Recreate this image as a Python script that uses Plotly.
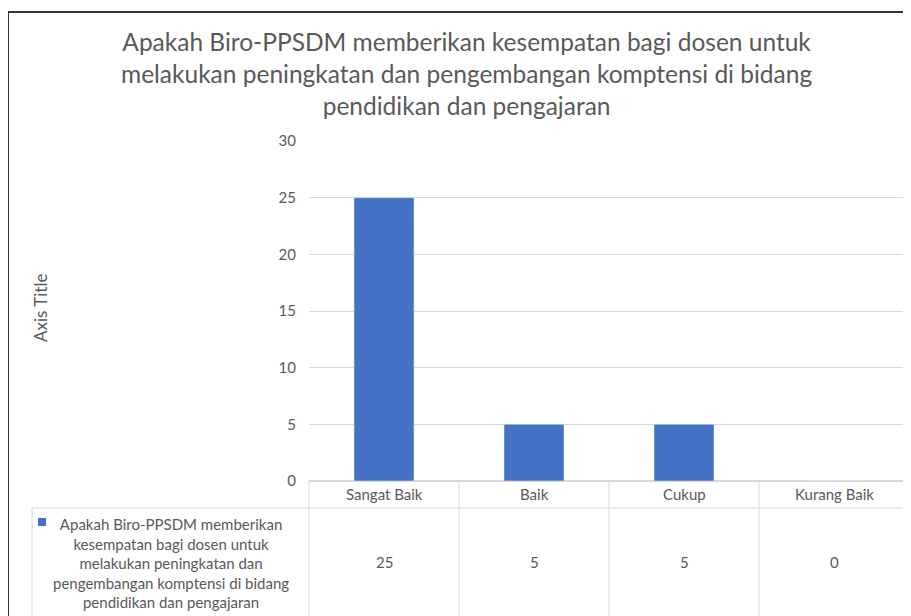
import plotly.graph_objects as go

# data
categories = ["Sangat Baik", "Baik", "Cukup", "Kurang Baik"]
values = [25, 5, 5, 0]
series_name = ("Apakah Biro-PPSDM memberikan<br>kesempatan bagi dosen untuk<br>"
               "melakukan peningkatan dan<br>pengembangan komptensi di bidang<br>"
               "pendidikan dan pengajaran")
title_text = ("Apakah Biro-PPSDM memberikan kesempatan bagi dosen untuk<br>"
              "melakukan peningkatan dan pengembangan komptensi di bidang<br>"
              "pendidikan dan pengajaran")

W, H = 911, 616
OFF = 8  # page body margin
# plot area in screen pixels
X0, X1, Y0, Y1 = 309, 909, 141, 481
L, R = X0 - OFF, W - (X1 - OFF)
T, B = Y0 - OFF, H - (Y1 - OFF)
FONT = "Lato"
GREY = "#595959"
LINE = "#d9d9d9"
BLUE = "#4472C4"


# screen pixel -> paper helpers (for table lines, frame, text placement)
def px(x):
    return (x - X0) / (X1 - X0)


def py(y):
    return (Y1 - y) / (Y1 - Y0)


fig = go.Figure(go.Bar(x=categories, y=values, marker_color=BLUE, width=0.4,
                       showlegend=False, hoverinfo="x+y"))

shapes = []
# table grid
gl = dict(type="line", xref="paper", yref="paper", line=dict(color=LINE, width=1), layer="above")
shapes.append(dict(gl, x0=px(32), x1=px(909), y0=py(508), y1=py(508)))
for xv in [309, 459, 609, 759, 909]:
    shapes.append(dict(gl, x0=px(xv), x1=px(xv), y0=py(481), y1=py(630)))
shapes.append(dict(gl, x0=px(32), x1=px(32), y0=py(508), y1=py(630)))
# legend key
shapes.append(dict(type="rect", xref="paper", yref="paper", x0=px(38), x1=px(46),
                   y0=py(526), y1=py(518), fillcolor=BLUE, line=dict(width=0)))
# outer frame
shapes.append(dict(type="path", xref="paper", yref="paper",
                   path=f"M {px(8)},{py(630)} L {px(8)},{py(12)} L {px(925)},{py(12)}",
                   line=dict(color="#333333", width=2)))

cell = dict(showarrow=False, xanchor="center", yanchor="middle",
            font=dict(family=FONT, size=15, color=GREY))
annotations = []
for c, v in zip(categories, values):
    annotations.append(dict(cell, x=c, xref="x", y=py(494), yref="paper", text=c))
    annotations.append(dict(cell, x=c, xref="x", y=py(562), yref="paper", text=str(v)))
annotations.append(dict(cell, x=px(171), xref="paper", y=py(563), yref="paper",
                        text=series_name, align="center"))
annotations.append(dict(cell, x=px(40), xref="paper", y=py(308), yref="paper",
                        text="Axis Title", textangle=-90,
                        font=dict(family=FONT, size=17, color=GREY)))
# chart title
annotations.append(dict(cell, x=px(466), xref="paper", y=py(73), yref="paper",
                        text=title_text, align="center",
                        font=dict(family=FONT, size=24.5, color=GREY)))

fig.update_layout(
    width=W, height=H,
    margin=dict(l=L, r=R, t=T, b=B),
    paper_bgcolor="white", plot_bgcolor="white",
    xaxis=dict(showticklabels=False, showgrid=False, zeroline=False, showline=False, ticks=""),
    yaxis=dict(range=[0, 30], dtick=5, showgrid=True, gridcolor=LINE, gridwidth=1,
               zeroline=True, zerolinecolor=LINE, showline=False, ticks="",
               ticklabelstandoff=12,
               tickfont=dict(family=FONT, size=15, color=GREY)),
    shapes=shapes,
    annotations=annotations,
    bargap=0.6,
)

fig.write_html("out.html")
